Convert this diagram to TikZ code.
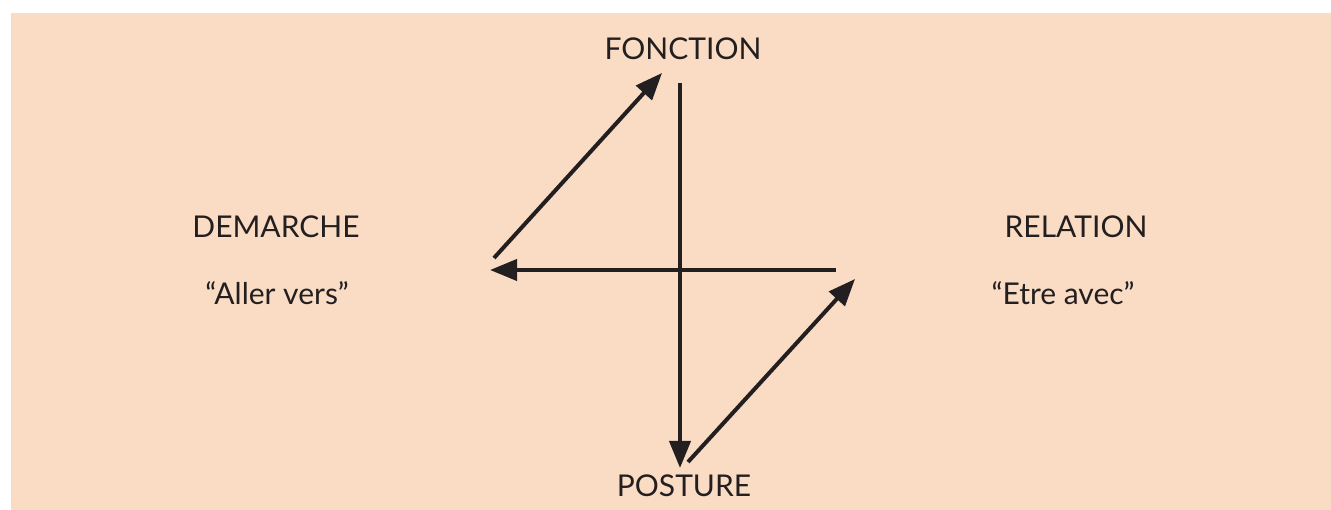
\documentclass[tikz,border=0pt]{standalone}
\usepackage{fontspec}
\setmainfont{Lato}
\usetikzlibrary{arrows.meta}
\definecolor{peach}{RGB}{250,220,196}
\definecolor{ink}{RGB}{35,31,32}
\tikzset{
  lbl/.style={font=\fontsize{30}{36}\selectfont, text=ink, inner sep=0pt, anchor=base},
  arr/.style={draw=ink, line width=4pt, -{Triangle[length=27pt,width=21pt]}},
}
\begin{document}
\begin{tikzpicture}[x=1pt,y=-1pt]
\useasboundingbox (0,0) rectangle (1331,510);
\fill[peach] (11,13) rectangle (1331,510);
\node[lbl] (fonction) at (683,60) {FONCTION};
\node[lbl] (demarche) at (276,238) {DEMARCHE};
\node[lbl] (aller) at (277,305) {``Aller vers''};
\node[lbl] (relation) at (1076,238) {RELATION};
\node[lbl] (etre) at (1063,305) {``Etre avec''};
\node[lbl] (posture) at (684,496) {POSTURE};
\coordinate (vtop) at (680,83);
\coordinate (vbot) at (680,468);
\coordinate (hright) at (836,270);
\coordinate (hleft) at (490,270);
\coordinate (d1s) at (494,258);
\coordinate (d1e) at (662,73);
\coordinate (d2s) at (688,462);
\coordinate (d2e) at (855,279);
\draw[arr] (vtop) -- (vbot);
\draw[arr] (hright) -- (hleft);
\draw[arr] (d1s) -- (d1e);
\draw[arr] (d2s) -- (d2e);
\end{tikzpicture}
\end{document}
